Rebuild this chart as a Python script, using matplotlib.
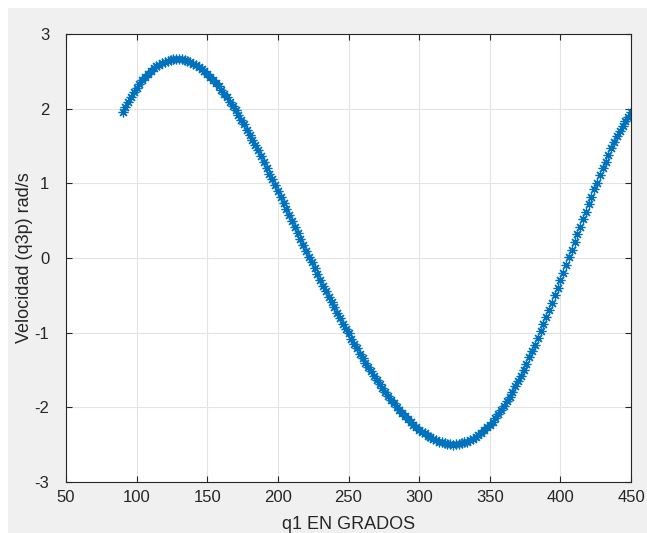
import matplotlib
matplotlib.use("Agg")
import matplotlib.pyplot as plt
from matplotlib.patches import Rectangle

# q1 in degrees, 90..450 step 2
q1 = list(range(90, 451, 2))
# angular velocity of link 3 (rad/s)
q3p = [1.95, 2.02, 2.09, 2.16, 2.22, 2.28, 2.33, 2.38, 2.43, 2.47, 2.51, 2.54, 2.57, 2.59, 2.61, 2.63,
       2.64, 2.65, 2.66, 2.66, 2.66, 2.66, 2.65, 2.64, 2.62, 2.60, 2.58, 2.56, 2.53, 2.50, 2.47, 2.43,
       2.39, 2.35, 2.30, 2.25, 2.20, 2.15, 2.09, 2.04, 1.98, 1.92, 1.85, 1.79, 1.72, 1.65, 1.58, 1.51,
       1.44, 1.36, 1.29, 1.21, 1.13, 1.06, 0.98, 0.90, 0.82, 0.74, 0.66, 0.58, 0.50, 0.42, 0.34, 0.26,
       0.18, 0.10, 0.02, -0.06, -0.13, -0.21, -0.29, -0.37, -0.44, -0.52, -0.59, -0.66, -0.73, -0.81,
       -0.88, -0.95, -1.01, -1.08, -1.15, -1.21, -1.28, -1.34, -1.40, -1.46, -1.52, -1.58, -1.63, -1.69,
       -1.74, -1.79, -1.85, -1.90, -1.94, -1.99, -2.03, -2.08, -2.12, -2.16, -2.20, -2.23, -2.27, -2.30,
       -2.33, -2.35, -2.38, -2.40, -2.42, -2.44, -2.46, -2.47, -2.48, -2.49, -2.49, -2.50, -2.49, -2.49,
       -2.48, -2.47, -2.46, -2.44, -2.42, -2.40, -2.37, -2.34, -2.31, -2.27, -2.23, -2.19, -2.14, -2.09,
       -2.04, -1.98, -1.92, -1.86, -1.79, -1.72, -1.65, -1.58, -1.50, -1.42, -1.33, -1.25, -1.16, -1.07,
       -0.98, -0.89, -0.79, -0.70, -0.60, -0.50, -0.40, -0.30, -0.20, -0.09, 0.01, 0.11, 0.22, 0.32,
       0.42, 0.52, 0.62, 0.72, 0.82, 0.92, 1.01, 1.11, 1.20, 1.29, 1.38, 1.47, 1.55, 1.63, 1.70, 1.77,
       1.83, 1.89, 1.95]

xticks = list(range(50, 451, 50))
yticks = list(range(-3, 4))

plt.rcParams["font.family"] = ["Liberation Sans", "DejaVu Sans"]
plt.rcParams["axes.unicode_minus"] = False

fig = plt.figure(figsize=(6.47, 5.33), dpi=100, facecolor="white")
# matlab grey window area
fig.patches.append(Rectangle((8/647, 0), 1, 1 - 8/533, transform=fig.transFigure,
                             facecolor="#f0f0f0", edgecolor="none", zorder=-1))
ax = fig.add_axes([66/647, 1 - 482/533, 565/647, 448/533])
ax.plot(q1, q3p, linestyle="none", marker=(8, 2, 0), markersize=7,
        color="#0072BD", markeredgewidth=0.9)

ax.set_xlim(50, 450)
ax.set_ylim(-3, 3)
ax.set_xticks(xticks)
ax.set_yticks(yticks)
ax.grid(True, color="#e3e3e3", linewidth=0.8)
ax.set_axisbelow(True)
ax.tick_params(direction="in", length=4, width=0.8, top=True, right=True,
               labelsize=12, labelcolor="#262626", color="#262626")
ax.tick_params(axis="x", pad=6)
ax.tick_params(axis="y", pad=12)
for s in ax.spines.values():
    s.set_color("#262626")
    s.set_linewidth(0.8)

ax.set_xlabel("q1 EN GRADOS", fontsize=13, color="#262626", labelpad=8)
ax.set_ylabel("Velocidad (q3p) rad/s", fontsize=13, color="#262626")
ax.yaxis.set_label_coords(-0.058, 0.5)

fig.savefig("out.png", dpi=100)
